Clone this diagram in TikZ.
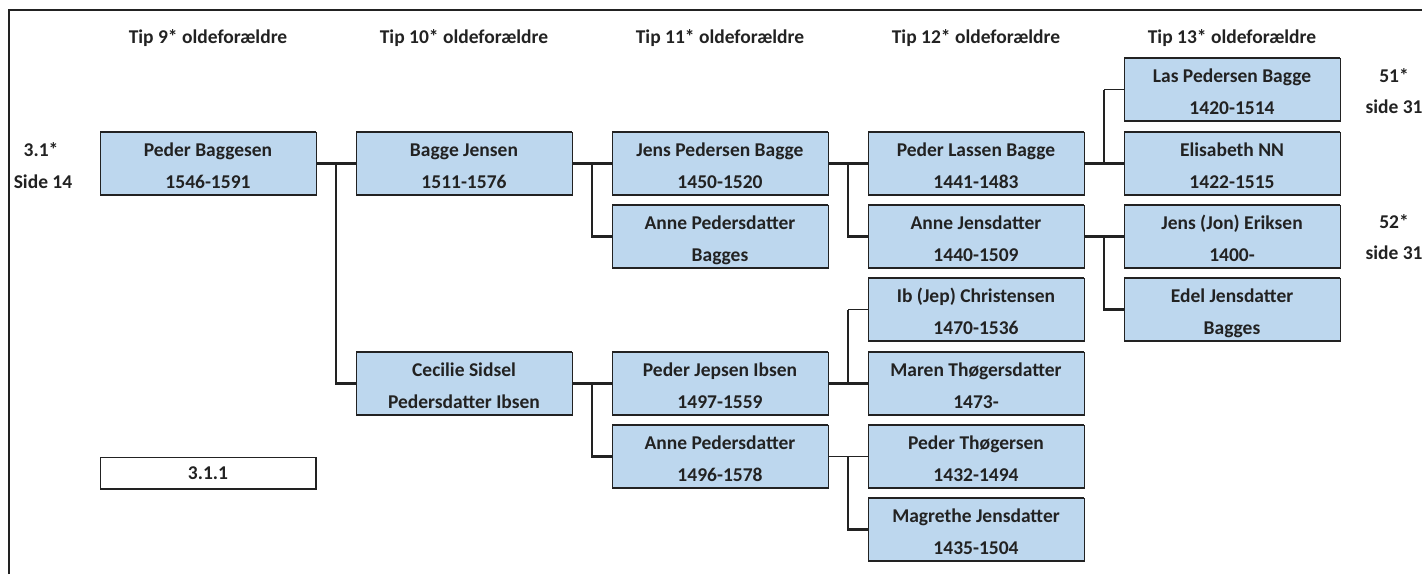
\documentclass[tikz,border=0pt]{standalone}
\usepackage{fontspec}
\setmainfont{Carlito}
\usetikzlibrary{calc}
\definecolor{boxblue}{HTML}{BDD7EE}
\definecolor{ink}{HTML}{222222}
\tikzset{
 pbox/.style={fill=boxblue, draw=ink, line width=0.8pt, minimum width=216pt, minimum height=63pt,
   inner sep=0pt, outer sep=0pt, align=center, text=ink,
   font=\bfseries\fontsize{19.5}{32}\selectfont, anchor=north west},
 wbox/.style={pbox, fill=white, minimum height=32pt, font=\bfseries\fontsize{19.5}{22}\selectfont},
 hdr/.style={text=ink, font=\bfseries\fontsize{19.5}{22}\selectfont, anchor=base},
 lbl/.style={text=ink, font=\bfseries\fontsize{19.5}{22}\selectfont, anchor=base},
 conn/.style={line width=2.8pt, draw=ink},
 thinconn/.style={line width=1pt, draw=ink},
 rim/.style={line width=2.5pt, draw=ink},
 frame/.style={line width=2.5pt, draw=ink}
}
\newcommand\tl[2]{\rule{0pt}{21pt}#1\\#2\rule[-4pt]{0pt}{4pt}}
\begin{document}
\begin{tikzpicture}[x=1pt,y=-1pt]
\useasboundingbox (0,0) rectangle (1422,574);
\draw[frame] (9,574) -- (9,10) -- (1422,10);
% headers
\node[hdr] (h9)  at (208,43)  {Tip 9* oldeforældre};
\node[hdr] (h10) at (464,43)  {Tip 10* oldeforældre};
\node[hdr] (h11) at (720,43)  {Tip 11* oldeforældre};
\node[hdr] (h12) at (976,43)  {Tip 12* oldeforældre};
\node[hdr] (h13) at (1232,43) {Tip 13* oldeforældre};
% side labels
\node[lbl] (l1) at (41,156) {3.1*};
\node[lbl] (l2) at (43,188) {Side 14};
\node[lbl] (l3) at (1394,82) {51*};
\node[lbl] (l4) at (1394,113) {side 31};
\node[lbl] (l5) at (1394,228) {52*};
\node[lbl] (l6) at (1394,259) {side 31};
% boxes
\node[pbox] (a) at (100,132) {\tl{Peder Baggesen}{1546-1591}};
\node[pbox] (b) at (356,132) {\tl{Bagge Jensen}{1511-1576}};
\node[pbox] (c) at (356,352) {\tl{Cecilie Sidsel}{Pedersdatter Ibsen}};
\node[pbox] (d) at (612,132) {\tl{Jens Pedersen Bagge}{1450-1520}};
\node[pbox] (e) at (612,205) {\tl{Anne Pedersdatter}{Bagges}};
\node[pbox] (f) at (612,352) {\tl{Peder Jepsen Ibsen}{1497-1559}};
\node[pbox] (g) at (612,425) {\tl{Anne Pedersdatter}{1496-1578}};
\node[pbox] (h) at (868,132) {\tl{Peder Lassen Bagge}{1441-1483}};
\node[pbox] (i) at (868,205) {\tl{Anne Jensdatter}{1440-1509}};
\node[pbox] (j) at (868,278) {\tl{Ib (Jep) Christensen}{1470-1536}};
\node[pbox] (k) at (868,352) {\tl{Maren Thøgersdatter}{1473-}};
\node[pbox] (l) at (868,425) {\tl{Peder Thøgersen}{1432-1494}};
\node[pbox] (m) at (868,498) {\tl{Magrethe Jensdatter}{1435-1504}};
\node[pbox] (n) at (1124,58)  {\tl{Las Pedersen Bagge}{1420-1514}};
\node[pbox] (o) at (1124,132) {\tl{Elisabeth NN}{1422-1515}};
\node[pbox] (p) at (1124,205) {\tl{Jens (Jon) Eriksen}{1400-}};
\node[pbox] (q) at (1124,278) {\tl{Edel Jensdatter}{Bagges}};
\node[wbox] (r) at (100,457) {3.1.1};
% thick top/bottom rims
\foreach \x in {a,b,c,d,e,f,g,h,i,j,k,l,m,n,o,p,q}
  \draw[rim] (\x.north west) -- (\x.north east) (\x.south west) -- (\x.south east);
\draw[rim] (r.south west) -- (r.south east);
\draw[line width=1.4pt, draw=ink] (r.north east) -- (r.south east);
% connectors
\draw[conn] (a.east) -- (b.west);
\draw[conn] ($(a.east)!0.5!(b.west)$) |- (c.west);
\draw[conn] (b.east) -- (d.west);
\draw[conn] ($(b.east)!0.5!(d.west)$) |- (e.west);
\draw[conn] (d.east) -- (h.west);
\draw[conn] ($(d.east)!0.5!(h.west)$) |- (i.west);
\draw[conn] (i.east) -- (p.west);
\draw[conn] ($(i.east)!0.5!(p.west)$) |- (q.west);
\draw[conn] (c.east) -- (f.west);
\draw[conn] ($(c.east)!0.5!(f.west)$) |- (g.west);
% Peder Lassen -> Las / Elisabeth
\draw[conn] (h.east) -- (o.west);
\coordinate (hv) at ($(h.east)!0.5!(o.west)$);
\draw[conn] (hv) -- (hv |- n.west);
\draw[thinconn] (hv |- n.west) -- (n.west);
% Peder Jepsen -> Ib / Maren
\draw[conn] (f.east) -- (k.west);
\coordinate (fv) at ($(f.east)!0.5!(k.west)$);
\draw[conn] (fv) -- (fv |- j.west);
\draw[thinconn] (fv |- j.west) -- (j.west);
% Anne Pedersdatter -> Peder Thoegersen / Magrethe
\draw[thinconn] (g.east) -- (l.west);
\draw[conn] ($(g.east)!0.5!(l.west)$) |- (m.west);
\end{tikzpicture}
\end{document}
